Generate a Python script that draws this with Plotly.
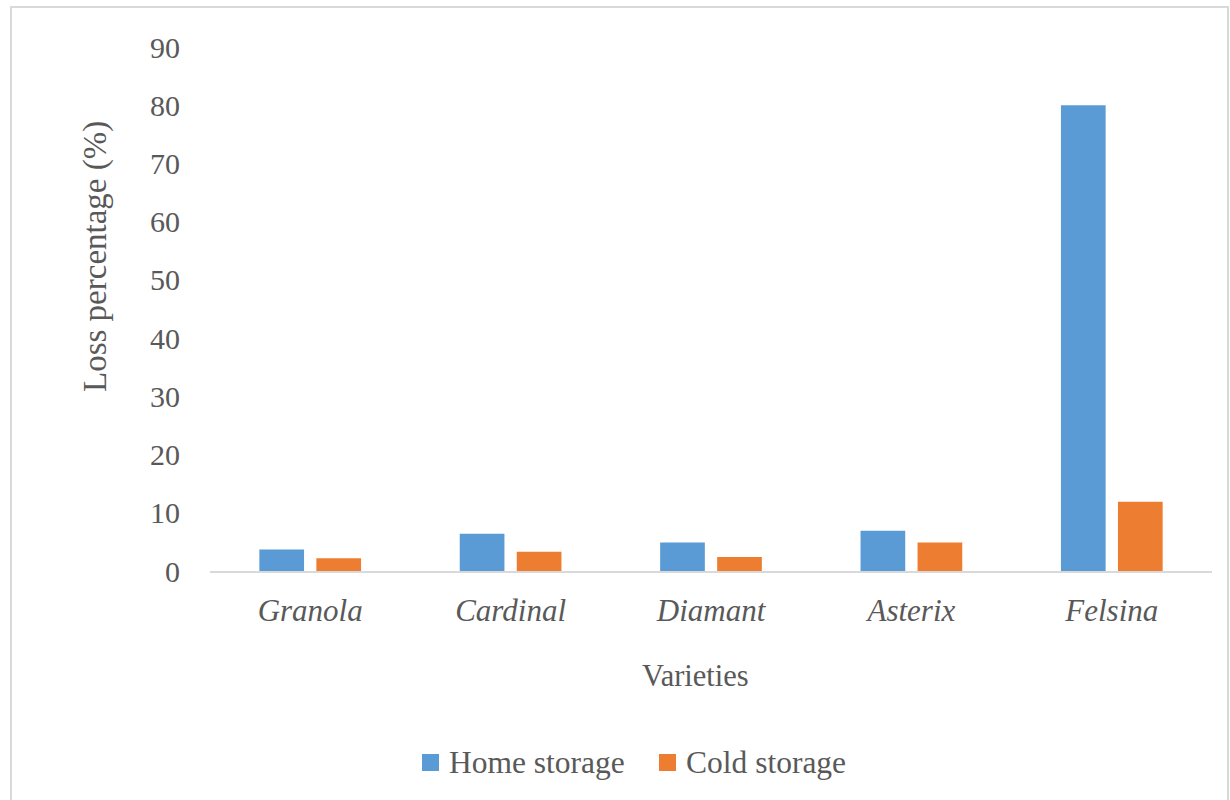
import plotly.graph_objects as go

varieties = ["Granola", "Cardinal", "Diamant", "Asterix", "Felsina"]
home_storage = [3.7, 6.4, 4.9, 6.9, 80.0]
cold_storage = [2.2, 3.3, 2.4, 4.9, 11.9]
y_ticks = [0, 10, 20, 30, 40, 50, 60, 70, 80, 90]
series_names = ["Home storage", "Cold storage"]
series_colors = ["#5B9BD5", "#ED7D31"]

FONT = "Liberation Serif"
TEXT = "#595959"

W, H = 1230, 800
L, R, T, B = 210, 18, 47, 229
pw, ph = W - L - R, H - T - B


def px_x(x):
    return (x - L) / pw


def px_y(y):
    return (H - B - y) / ph


fig = go.Figure()
for name, vals, col in zip(series_names, [home_storage, cold_storage], series_colors):
    fig.add_trace(go.Bar(name=name, x=varieties, y=vals,
                         marker=dict(color=col, line=dict(width=0))))

# outer chart frame
shapes = [dict(type="rect", xref="paper", yref="paper",
               x0=px_x(11), x1=px_x(1228), y0=px_y(810), y1=px_y(7),
               line=dict(color="#d9d9d9", width=2), layer="below")]

# axis titles
annotations = [
    dict(text="Varieties", xref="paper", yref="paper",
         x=px_x(695), y=px_y(676), xanchor="center", yanchor="middle",
         showarrow=False, font=dict(family=FONT, size=30.5, color=TEXT)),
    dict(text="Loss percentage (%)", xref="paper", yref="paper",
         x=px_x(95), y=px_y(257), xanchor="center", yanchor="middle",
         textangle=-90, showarrow=False,
         font=dict(family=FONT, size=33, color=TEXT)),
]

# legend drawn as swatch + label pairs
legend_items = [(422, 447), (659, 684)]
for (sx, tx), name, col in zip(legend_items, series_names, series_colors):
    shapes.append(dict(type="rect", xref="paper", yref="paper",
                       x0=px_x(sx), x1=px_x(sx + 17),
                       y0=px_y(771), y1=px_y(754),
                       fillcolor=col, line=dict(width=0)))
    annotations.append(dict(text=name, xref="paper", yref="paper",
                            x=px_x(tx), y=px_y(762), xanchor="left", yanchor="middle",
                            showarrow=False,
                            font=dict(family=FONT, size=31.5, color=TEXT)))

fig.update_layout(
    width=W, height=H,
    margin=dict(l=L, r=R, t=T, b=B),
    paper_bgcolor="white", plot_bgcolor="white",
    barmode="group", bargap=0.431, bargroupgap=0.216,
    font=dict(family=FONT, color=TEXT, size=30),
    showlegend=False,
    xaxis=dict(
        showgrid=False, zeroline=False,
        showline=True, linecolor="#d9d9d9", linewidth=2,
        ticks="outside", ticklen=11, tickcolor="rgba(0,0,0,0)",
        tickfont=dict(family=FONT, size=31, color=TEXT, style="italic"),
    ),
    yaxis=dict(
        range=[0, 90], tickvals=y_ticks,
        showgrid=False, zeroline=False, showline=False,
        ticks="outside", ticklen=23, tickcolor="rgba(0,0,0,0)",
        tickfont=dict(family=FONT, size=30, color=TEXT),
    ),
    shapes=shapes,
    annotations=annotations,
)

fig.write_html("out.html")
